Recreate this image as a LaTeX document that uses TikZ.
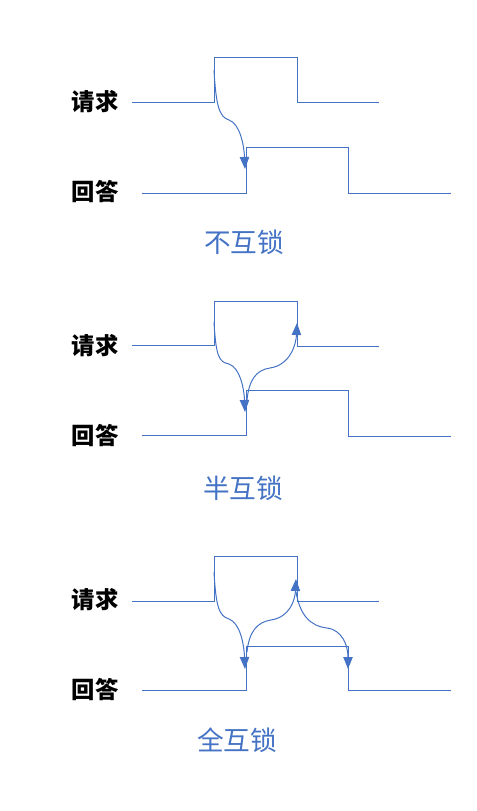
\documentclass[tikz,border=0pt]{standalone}
\usepackage{fontspec}
\newfontfamily\cjk{Noto Sans CJK SC}
\usetikzlibrary{arrows.meta}
\definecolor{wireblue}{HTML}{4472C4}

\begin{document}
\begin{tikzpicture}[x=0.75pt, y=-0.75pt,
    wave/.style={wireblue, line width=0.75pt},
    hs/.style={wireblue, line width=0.75pt, -{Triangle[length=9pt, width=7pt]}},
    sig/.style={font=\cjk\bfseries\fontsize{17.5}{20}\selectfont},
    title/.style={wireblue, font=\cjk\fontsize{20}{24}\selectfont}]
    \useasboundingbox (0,0) rectangle (476,811);

    \node[sig] at (95, 102) (req1) {请求};
    \node[sig] at (95, 192) (ack1) {回答};
    \draw[wave] (132,102) -- (214,102) -- (214,57) -- (297,57) -- (297,102) -- (379,102);
    \draw[wave] (142,193) -- (246,193) -- (246,147) -- (348,147) -- (348,193) -- (451,193);
    \coordinate (r1) at (214,70);
    \coordinate (a1) at (245,169);
    \draw[hs] (r1) .. controls (216,105) and (219,117) .. (229,120) .. controls (240,124) and (244,145) .. (a1);
    \node[title] at (244, 242) (t1) {不互锁};

    \node[sig] at (95, 346) (req2) {请求};
    \node[sig] at (95, 436) (ack2) {回答};
    \draw[wave] (132,345) -- (214,345) -- (214,301) -- (297,301) -- (297,346) -- (379,346);
    \draw[wave] (142,435) -- (246,435) -- (246,390) -- (348,390) -- (348,436) -- (451,436);
    \coordinate (r2) at (214,322);
    \coordinate (a2) at (245,412);
    \coordinate (a2s) at (247,400);
    \coordinate (r2e) at (297,323);
    \draw[hs] (r2) .. controls (216,357) and (219,362) .. (229,364) .. controls (240,368) and (244,388) .. (a2);
    \draw[hs] (a2s) .. controls (249,380) and (256,370) .. (270,368) .. controls (290,365) and (296,345) .. (r2e);
    \node[title] at (243, 488) (t2) {半互锁};

    \node[sig] at (95, 600) (req3) {请求};
    \node[sig] at (95, 690) (ack3) {回答};
    \draw[wave] (132,601) -- (214,601) -- (214,556) -- (297,556) -- (297,601) -- (379,601);
    \draw[wave] (142,690) -- (246,690) -- (246,646) -- (348,646) -- (348,690) -- (451,690);
    \coordinate (r3) at (214,572);
    \coordinate (a3) at (245,669);
    \coordinate (a3s) at (247,652);
    \coordinate (r3e) at (296,579);
    \coordinate (r3s) at (296,592);
    \coordinate (a3e) at (348,669);
    \draw[hs] (r3) .. controls (216,607) and (219,616) .. (229,619) .. controls (240,623) and (244,644) .. (a3);
    \draw[hs] (a3s) .. controls (249,632) and (257,622) .. (271,620) .. controls (290,617) and (295,600) .. (r3e);
    \draw[hs] (r3s) .. controls (300,615) and (310,626) .. (327,628) .. controls (342,630) and (348,645) .. (a3e);
    \node[title] at (237, 740) (t3) {全互锁};
\end{tikzpicture}
\end{document}
